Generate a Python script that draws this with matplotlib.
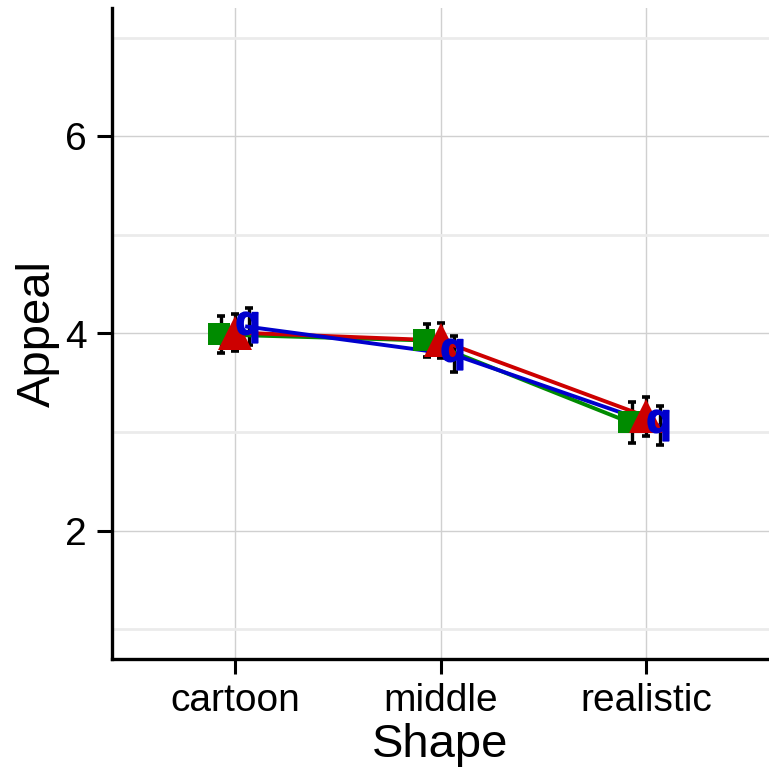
import matplotlib
matplotlib.use("Agg")
import matplotlib.pyplot as plt
import numpy as np

plt.rcParams['font.family'] = ['Liberation Sans', 'DejaVu Sans']
plt.rcParams['mathtext.fontset'] = 'custom'
plt.rcParams['mathtext.bf'] = 'Liberation Sans:bold'
plt.rcParams['mathtext.rm'] = 'Liberation Sans'

categories = ["cartoon", "middle", "realistic"]
green_mean = [3.99, 3.93, 3.10]
green_err = [0.19, 0.17, 0.21]
red_mean = [4.01, 3.93, 3.16]
red_err = [0.19, 0.18, 0.20]
blue_mean = [4.07, 3.79, 3.07]
blue_err = [0.19, 0.18, 0.20]
yticks = [2, 4, 6]
minor_yticks = [1, 3, 5, 7]

fig = plt.figure(figsize=(7.69, 7.76), dpi=100)
ax = fig.add_axes([112/769, 117/776, 657/769, 651/776])

x = np.arange(1, len(categories) + 1)

series = [
    (green_mean, green_err, "#008B00", "s", 16, -0.08, -0.068),
    (red_mean, red_err, "#CD0000", "^", 25, 0.0, 0.0),
    (blue_mean, blue_err, "#0000CD", r"$\mathbf{q}$", 22, 0.058, 0.068),
]

# error bars first
for mean, err, col, mk, ms, moff, eoff in series:
    ax.errorbar(x + eoff, mean, yerr=err, fmt="none", ecolor="black",
                elinewidth=2.4, capsize=3, capthick=2.6, zorder=3)

z = 4
for mean, err, col, mk, ms, moff, eoff in series:
    ax.plot(x + moff, mean, color=col, lw=2.8, zorder=z)
    z += 1
for mean, err, col, mk, ms, moff, eoff in series:
    ax.plot(x + moff, mean, linestyle="none", marker=mk, markersize=ms,
            color=col, markeredgewidth=0 if mk != r"$\mathbf{q}$" else 1.2,
            markeredgecolor=col, zorder=z)
    z += 1

ax.set_xlim(0.4, 3.6)
ax.set_ylim(0.7, 7.3)
ax.set_xticks(x)
ax.set_xticklabels(categories)
ax.set_yticks(yticks)
ax.set_yticks(minor_yticks, minor=True)

ax.grid(True, which="major", axis="both", color="#d0d0d0", lw=1.0, zorder=0)
ax.grid(True, which="minor", axis="y", color="#ebebeb", lw=2.0, zorder=0)
ax.set_axisbelow(True)

for s in ["top", "right"]:
    ax.spines[s].set_visible(False)
for s in ["left", "bottom"]:
    ax.spines[s].set_linewidth(2.4)
    ax.spines[s].set_color("black")

ax.tick_params(axis="both", which="major", length=11, width=2.2, color="black",
               labelsize=28, labelcolor="black")
ax.tick_params(axis="y", which="major", pad=7)
ax.tick_params(axis="x", which="major", pad=6)
ax.tick_params(axis="y", which="minor", length=0)

ax.set_xlabel("Shape", fontsize=34, labelpad=3)
ax.set_ylabel("Appeal", fontsize=34, labelpad=4)

fig.savefig("out.png", dpi=100)
